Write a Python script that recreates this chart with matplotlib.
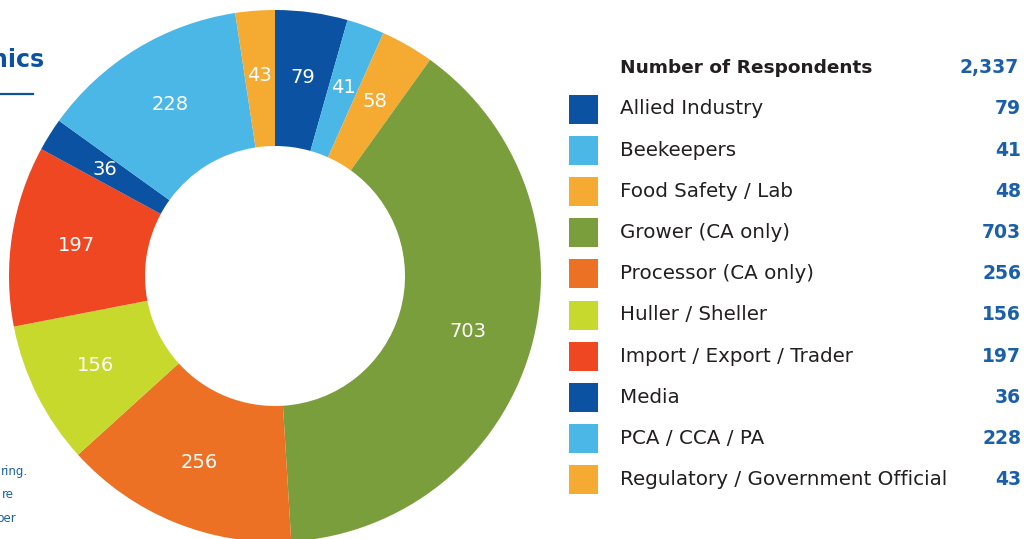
import matplotlib
matplotlib.use("Agg")
import matplotlib.pyplot as plt
import numpy as np

# Slices, clockwise from 12 o'clock
slice_values = [79, 41, 58, 703, 256, 156, 197, 36, 228, 43]
categories = ['Allied Industry', 'Beekeepers', 'Food Safety / Lab', 'Grower (CA only)',
              'Processor (CA only)', 'Huller / Sheller', 'Import / Export / Trader',
              'Media', 'PCA / CCA / PA', 'Regulatory / Government Official']
legend_values = ['79', '41', '48', '703', '256', '156', '197', '36', '228', '43']
total_label = '2,337'
colors = ['#0b52a3', '#4ab7e6', '#f5ab32', '#7a9e3c', '#ec7124',
          '#c8d92e', '#ee4722', '#0b52a3', '#4ab7e6', '#f5ab32']

W, H = 1034, 539
plt.rcParams['font.family'] = ['DejaVu Sans']
fig = plt.figure(figsize=(W / 100, H / 100), dpi=100)

# donut: centre (275, 276) px, outer radius 266 px
cx, cy, R = 275, 276, 266
ax = fig.add_axes([(cx - R) / W, (H - cy - R) / H, 2 * R / W, 2 * R / H])
wedges, _ = ax.pie(slice_values, colors=colors, startangle=90, counterclock=False,
                   radius=1, wedgeprops=dict(width=1 - 130 / 266, linewidth=0))
ax.set_xlim(-1, 1)
ax.set_ylim(-1, 1)
ax.axis('off')
for w, v in zip(wedges, slice_values):
    ang = np.deg2rad((w.theta1 + w.theta2) / 2)
    ax.text(0.755 * np.cos(ang), 0.755 * np.sin(ang), str(v), color='white',
            fontsize=14, ha='center', va='center')

# overlay in pixel coords
ov = fig.add_axes([0, 0, 1, 1])
ov.set_xlim(0, W)
ov.set_ylim(H, 0)
ov.axis('off')
ov.patch.set_alpha(0)

blue = '#1b5faa'
ov.text(45, 60, 'Demographics', color='#0b52a3', fontsize=17, fontweight='bold',
        ha='right', va='center')
ov.plot([0, 33], [94, 94], color='#0b52a3', lw=1.6)
for x, y, t in zip([28, 14, 17], [472, 495, 518], ['ring.', 're', 'ber']):
    ov.text(x, y, t, color=blue, fontsize=8.5, ha='right', va='center')

ov.text(620, 68, 'Number of Respondents', fontsize=13.3, fontweight='bold',
        color='#231f20', ha='left', va='center')
ov.text(1019, 68, total_label, fontsize=13.5, fontweight='bold', color=blue,
        ha='right', va='center')
row_y = 109
for i, (cat, val, col) in enumerate(zip(categories, legend_values, colors)):
    y = row_y + i * 41.2
    ov.add_patch(plt.Rectangle((569, y - 14.5), 29, 29, color=col, lw=0))
    ov.text(620, y, cat, fontsize=14.3, color='#231f20', ha='left', va='center')
    ov.text(1021, y, val, fontsize=13.5, fontweight='bold', color=blue,
            ha='right', va='center')

fig.savefig('out.png', dpi=100)
